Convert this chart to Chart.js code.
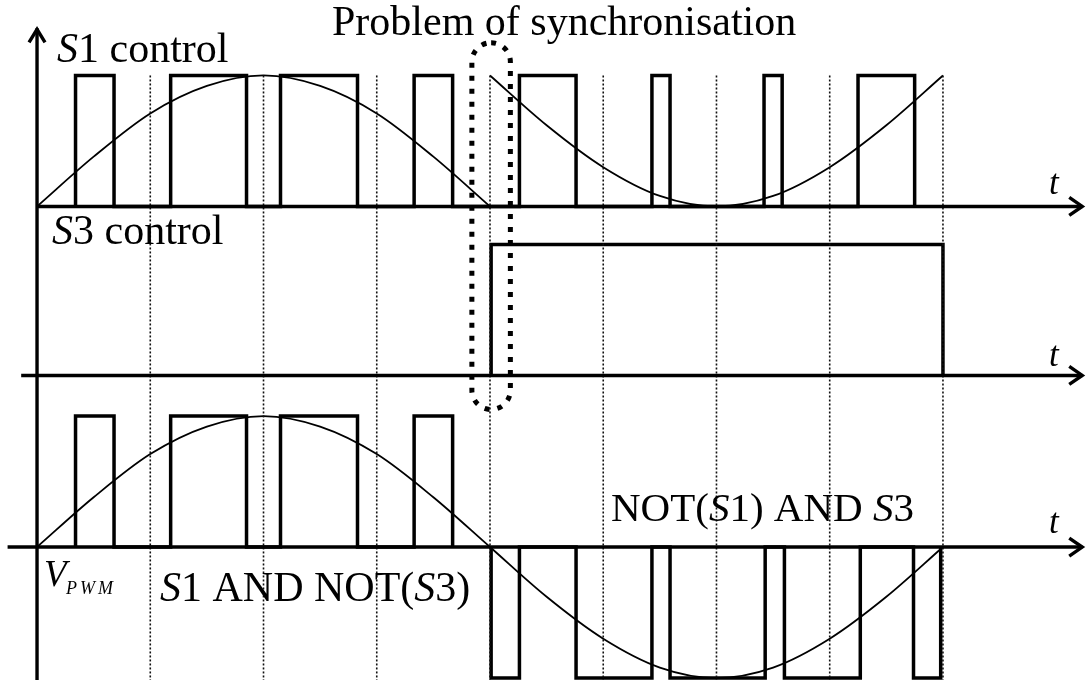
<!DOCTYPE html>
<html>
<head>
<meta charset="utf-8">
<script src="https://cdn.jsdelivr.net/npm/chart.js@4/dist/chart.umd.min.js"></script>
<style>
html, body { margin: 0; padding: 0; background: #fff; }
canvas { display: block; }
</style>
</head>
<body>
<canvas id="pwm" width="1087" height="680"></canvas>
<script>
// Time is counted in grid intervals: the dotted lines sit at t = 1..8,
// one half period of the reference = 4 intervals.
const gridT = [1, 2, 3, 4, 5, 6, 7, 8];

// Reference sine, read every half interval (amplitude 1).
const sineT = [0, 0.5, 1, 1.5, 2, 2.5, 3, 3.5, 4, 4.5, 5, 5.5, 6, 6.5, 7, 7.5, 8];
const sineV = [0, 0.38, 0.71, 0.92, 1, 0.92, 0.71, 0.38, 0, -0.38, -0.70, -0.92, -1, -0.92, -0.70, -0.38, 0];

// S1 control pulses (rising / falling edges).
const s1On  = [0.34, 1.18, 2.15, 3.33, 4.26, 5.43, 6.42, 7.25];
const s1Off = [0.68, 1.85, 2.83, 3.67, 4.76, 5.59, 6.58, 7.75];

// S3 control: one long pulse over the negative half period.
const s3On  = [4.01];
const s3Off = [8.0];

// V_PWM: positive = S1 AND NOT(S3), negative = NOT(S1) AND S3.
const posOn  = [0.34, 1.18, 2.15, 3.33];
const posOff = [0.68, 1.85, 2.83, 3.67];
const negOn  = [4.01, 4.76, 5.59, 6.60, 7.74];
const negOff = [4.26, 5.43, 6.43, 7.27, 7.98];

// baselines of the three traces (in amplitude units)
const TOP = 2.6, MID = 1.31, BOT = 0;
const T_END = 9.23;          // arrow tips of the time axes
const FONT = '"Liberation Serif", "Times New Roman", serif';

function pulses(on, off, base, level) {
    const pts = [];
    on.forEach(function (a, i) {
        pts.push({ x: a, y: base }, { x: a, y: base + level }, { x: off[i], y: base + level }, { x: off[i], y: base });
    });
    return pts;
}

function curve(from, to, shift, base) {
    const pts = [];
    sineT.forEach(function (t, i) {
        if (t >= from && t <= to) pts.push({ x: t, y: base + shift + sineV[i] });
    });
    return pts;
}

const thin = { borderColor: '#000', borderWidth: 1.8, pointRadius: 0, cubicInterpolationMode: 'monotone', fill: false };
const thick = { borderColor: '#000', borderWidth: 3.5, pointRadius: 0, tension: 0, borderJoinStyle: 'miter', fill: false };

const datasets = [];

// dotted time grid
gridT.forEach(function (t) {
    datasets.push({
        data: [{ x: t, y: TOP + 1 }, { x: t, y: BOT - 1.1 }],
        borderColor: '#111', borderWidth: 1.6, borderDash: [2, 2], pointRadius: 0, tension: 0,
    });
});

// S1 control: carrier halves + pulses
datasets.push(Object.assign({ data: curve(0, 4, 0, TOP) }, thin));
datasets.push(Object.assign({ data: curve(4, 8, 1, TOP) }, thin));
datasets.push(Object.assign({ data: pulses(s1On, s1Off, TOP, 1) }, thick));

// S3 control
datasets.push(Object.assign({ data: pulses(s3On, s3Off, MID, 1) }, thick));

// V_PWM
datasets.push(Object.assign({ data: curve(0, 8, 0, BOT) }, thin));
datasets.push(Object.assign({ data: pulses(posOn, posOff, BOT, 1) }, thick));
datasets.push(Object.assign({ data: pulses(negOn, negOff, BOT, -1) }, thick));

function textRuns(ctx, parts, px, py, size) {
    let cx = px;
    parts.forEach(function (p) {
        ctx.font = (p[1] ? 'italic ' : '') + size + 'px ' + FONT;
        ctx.fillText(p[0], cx, py);
        cx += ctx.measureText(p[0]).width;
    });
}

// axes, arrows, the dotted "problem" outline and all labels
const decor = {
    id: 'decor',
    afterDatasetsDraw(chart) {
        const { ctx } = chart;
        const sx = chart.scales.x, sy = chart.scales.y;
        const X = (v) => sx.getPixelForValue(v);
        const Y = (v) => sy.getPixelForValue(v);
        ctx.save();
        ctx.strokeStyle = '#000';
        ctx.fillStyle = '#000';
        ctx.lineWidth = 3.4;
        ctx.lineJoin = 'miter';

        // vertical axis
        const ax = X(0), atop = Y(3.96);
        ctx.beginPath();
        ctx.moveTo(ax, sy.bottom);
        ctx.lineTo(ax, atop);
        ctx.stroke();
        ctx.beginPath();
        ctx.moveTo(ax - 8, atop + 14);
        ctx.lineTo(ax, atop + 1);
        ctx.lineTo(ax + 8, atop + 14);
        ctx.stroke();

        // time axes
        [[TOP, 0], [MID, -0.14], [BOT, -0.26]].forEach(function (a) {
            const yy = Y(a[0]), tip = X(T_END);
            ctx.beginPath();
            ctx.moveTo(X(a[1]), yy);
            ctx.lineTo(tip, yy);
            ctx.stroke();
            ctx.beginPath();
            ctx.moveTo(tip - 13, yy - 9);
            ctx.lineTo(tip, yy);
            ctx.lineTo(tip - 13, yy + 9);
            ctx.stroke();
        });

        // dotted outline around the synchronisation problem
        ctx.lineWidth = 5;
        ctx.setLineDash([5, 8]);
        ctx.beginPath();
        const l = X(3.84), r = X(4.18), t = Y(3.85), b = Y(1.05);
        ctx.roundRect(l, t, r - l, b - t, (r - l) / 2);
        ctx.stroke();
        ctx.setLineDash([]);

        // labels
        ctx.textBaseline = 'alphabetic';
        textRuns(ctx, [['Problem of synchronisation', false]], 332, 35, 42);
        textRuns(ctx, [['S', true], ['1 control', false]], 57, 62, 42);
        textRuns(ctx, [['S', true], ['3 control', false]], 52, 244, 42);
        textRuns(ctx, [['t', true]], 1049, Y(TOP) - 12, 35);
        textRuns(ctx, [['t', true]], 1049, Y(MID) - 9, 35);
        textRuns(ctx, [['t', true]], 1049, Y(BOT) - 14, 35);
        textRuns(ctx, [['V', true]], 44, 586, 37);
        ctx.letterSpacing = '3px';
        textRuns(ctx, [['PWM', true]], 66, 594, 18);
        ctx.letterSpacing = '0px';
        textRuns(ctx, [['S', true], ['1 AND NOT(', false], ['S', true], ['3)', false]], 160, 601, 42);
        textRuns(ctx, [['NOT(', false], ['S', true], ['1) AND ', false], ['S', true], ['3', false]], 611, 521, 41);
        ctx.restore();
    },
};

new Chart(document.getElementById('pwm'), {
    type: 'line',
    data: { datasets },
    options: {
        responsive: false,
        animation: false,
        events: [],
        layout: { padding: 0 },
        plugins: { legend: { display: false }, tooltip: { enabled: false } },
        scales: {
            x: { type: 'linear', min: -0.327, max: 9.272, display: false },
            y: { type: 'linear', min: -1.015, max: 4.176, display: false },
        },
    },
    plugins: [decor],
});
</script>
</body>
</html>
